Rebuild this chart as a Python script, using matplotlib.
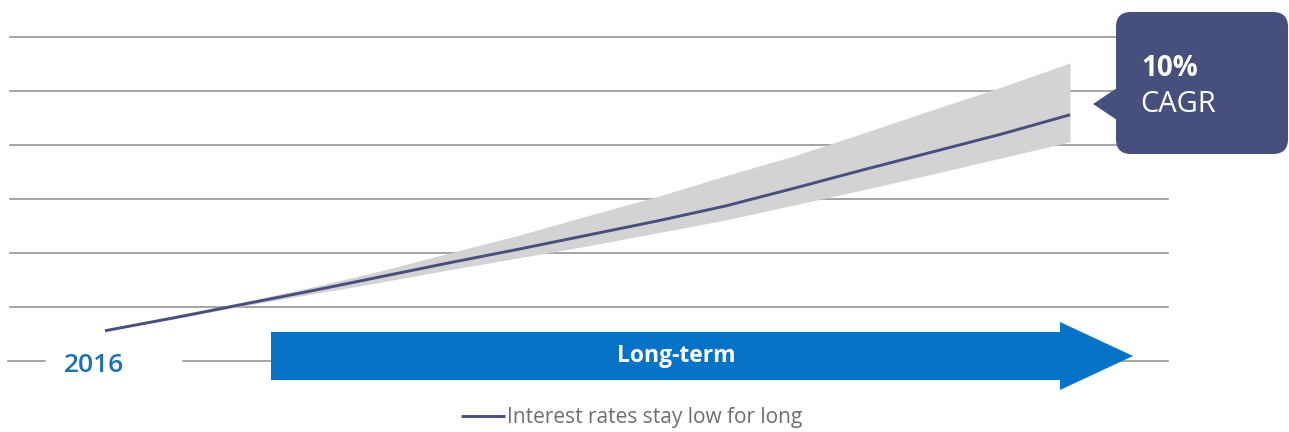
import matplotlib
matplotlib.use("Agg")
import matplotlib.pyplot as plt
from matplotlib.patches import FancyBboxPatch, Polygon

# ---- data -------------------------------------------------------------
years = list(range(2016, 2031))
central = [0.56, 0.80, 1.05, 1.30, 1.56, 1.82, 2.07, 2.33,
           2.59, 2.87, 3.20, 3.54, 3.87, 4.20, 4.56]
upper = [0.56, 0.82, 1.09, 1.37, 1.67, 2.00, 2.33, 2.69,
         3.04, 3.43, 3.80, 4.22, 4.65, 5.07, 5.52]
lower = [0.56, 0.78, 1.02, 1.24, 1.46, 1.69, 1.91, 2.13,
         2.37, 2.61, 2.89, 3.17, 3.46, 3.76, 4.06]
grid_levels = [0, 1, 2, 3, 4, 5, 6]
series_label = "Interest rates stay low for long"
start_label = "2016"
horizon_label = "Long-term"
callout_value = "10%"
callout_unit = "CAGR"

# ---- styling ----------------------------------------------------------
W, H = 1289, 432
NAVY = "#474f7d"
BLUE = "#0673c9"
YEAR_BLUE = "#1d6fb5"
BAND = "#d3d3d5"
GRID = "#8c8c8c"
FONT = ["Open Sans", "DejaVu Sans"]
plt.rcParams["font.family"] = FONT

fig = plt.figure(figsize=(W / 100, H / 100), dpi=100)
fig.patch.set_facecolor("white")

# main data axes spanning the whole canvas
ax = fig.add_axes([0, 0, 1, 1])
px_per_year = (1070 - 105) / (years[-1] - years[0])
x0 = years[0] - 105 / px_per_year
ax.set_xlim(x0, x0 + W / px_per_year)
px_per_unit = 54
ax.set_ylim(-(H - 361) / px_per_unit, 361 / px_per_unit)
ax.axis("off")

# horizontal guide lines
for lvl in grid_levels[1:]:
    ax.axhline(lvl, xmin=10 / W, xmax=1168 / W, color=GRID, lw=1.1, zorder=1)
ax.axhline(grid_levels[0], xmin=8 / W, xmax=45 / W, color=GRID, lw=1.1, zorder=1)
ax.axhline(grid_levels[0], xmin=183 / W, xmax=1168 / W, color=GRID, lw=1.1, zorder=1)

# projection band and central path
ax.fill_between(years, lower, upper, color=BAND, lw=0, zorder=2)
line, = ax.plot(years, central, color=NAVY, lw=2.1, solid_capstyle="butt",
                solid_joinstyle="round", zorder=3, label=series_label)

# overlay axes in pixel units for annotations
ov = fig.add_axes([0, 0, 1, 1], zorder=5)
ov.set_xlim(0, W)
ov.set_ylim(H, 0)
ov.axis("off")

ov.text(94, 366, start_label, color=YEAR_BLUE, fontsize=19,
        fontweight="semibold", ha="center", va="center")

arrow = Polygon([(271, 332), (1060, 332), (1060, 322), (1133, 356),
                 (1060, 390), (1060, 380), (271, 380)],
                closed=True, facecolor=BLUE, edgecolor="none")
ov.add_patch(arrow)
ov.text(676, 356, horizon_label, color="white", fontsize=16.5,
        fontweight="bold", ha="center", va="center")

box = FancyBboxPatch((1116 + 15, 12 + 15), 172 - 30, 142 - 30,
                     boxstyle="round,pad=15", facecolor=NAVY, edgecolor="none")
ov.add_patch(box)
ov.add_patch(Polygon([(1117, 88), (1093, 104), (1117, 120)], closed=True,
                     facecolor=NAVY, edgecolor="none"))
ov.text(1141, 68, callout_value, color="white", fontsize=20,
        fontweight="bold", ha="left", va="center")
ov.text(1140, 104, callout_unit, color="white", fontsize=21,
        ha="left", va="center")

leg = ax.legend(handles=[line], loc="center",
                bbox_to_anchor=(632 / W, 1 - 418 / H),
                bbox_transform=fig.transFigure, frameon=False,
                handlelength=2.1, handletextpad=0.1, fontsize=15,
                labelcolor="#6e6e6e")

fig.savefig("out.png", dpi=100, facecolor="white")
